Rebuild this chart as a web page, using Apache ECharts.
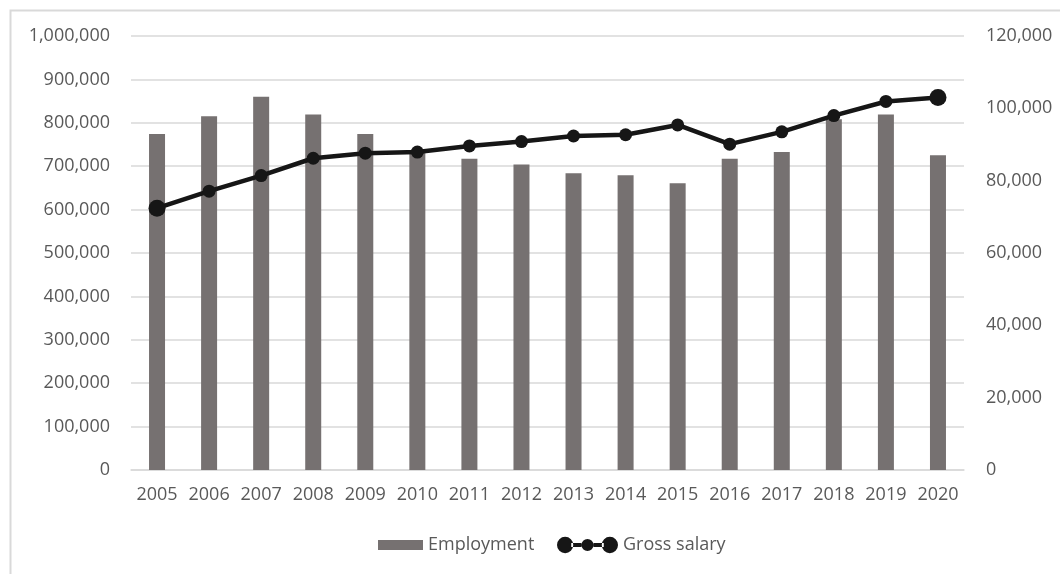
<!DOCTYPE html>
<html>
<head>
<meta charset="utf-8">
<script src="https://cdn.jsdelivr.net/npm/echarts@6/dist/echarts.min.js"></script>
<style>
html,body{margin:0;padding:0;background:#fff;}
#c{width:1060px;height:574px;}
</style>
</head>
<body>
<div id="c"></div>
<script>
const years = ['2005','2006','2007','2008','2009','2010','2011','2012','2013','2014','2015','2016','2017','2018','2019','2020'];
const employment = [774000, 815000, 860000, 819000, 774000, 733000, 717000, 704000, 684000, 679000, 661000, 717000, 733000, 808000, 819000, 725000];
const grossSalary = [72400, 77100, 81400, 86200, 87600, 87900, 89600, 90800, 92350, 92700, 95400, 90100, 93500, 98000, 101900, 103000];
const leftTicks = {min: 0, max: 1000000, interval: 100000};
const rightTicks = {min: 0, max: 120000, interval: 20000};

function fmt(v){ return String(v).replace(/\B(?=(\d{3})+(?!\d))/g, ','); }

const chart = echarts.init(document.getElementById('c'), null, {renderer:'canvas'});
const font = "'Open Sans', 'DejaVu Sans', sans-serif";
const labelColor = '#595959';
const gridColor = '#d9d9d9';

const salaryData = grossSalary.map((v,i)=>({
  value: v,
  symbolSize: (i===0 || i===grossSalary.length-1) ? 17 : 13
}));

const legendIcon = 'path://M0,8 A8,8 0 1,0 16,8 A8,8 0 1,0 0,8 Z M14,6 L24,6 L24,10 L14,10 Z M24,8 A6,6 0 1,0 36,8 A6,6 0 1,0 24,8 Z M36,6 L46,6 L46,10 L36,10 Z M44,8 A8,8 0 1,0 60,8 A8,8 0 1,0 44,8 Z';

chart.setOption({
  animation: false,
  textStyle: {fontFamily: font},
  graphic: [{
    type: 'polyline',
    shape: {points: [[10.5, 580], [10.5, 10.5], [1070, 10.5]]},
    style: {stroke: gridColor, lineWidth: 2, fill: null},
    silent: true
  }],
  grid: {left: 131, right: 96, top: 36, bottom: 104, containLabel: false},
  legend: [{
    left: 373,
    top: 531,
    textStyle: {color: labelColor, fontSize: 18, fontFamily: font},
    data: [{name: 'Employment', icon: 'rect', itemStyle: {color: '#767171'}}],
    itemWidth: 45,
    itemHeight: 10
  },{
    left: 552,
    top: 531,
    textStyle: {color: labelColor, fontSize: 18, fontFamily: font},
    data: [{name: 'Gross salary', icon: legendIcon}],
    itemWidth: 61,
    itemHeight: 17
  }],
  xAxis: {
    type: 'category',
    data: years,
    axisLine: {lineStyle: {color: gridColor, width: 1.5}},
    axisTick: {show: false},
    axisLabel: {color: labelColor, fontSize: 18, margin: 16, interval: 0}
  },
  yAxis: [{
    type: 'value',
    min: leftTicks.min, max: leftTicks.max, interval: leftTicks.interval,
    axisLine: {show: false}, axisTick: {show: false},
    splitLine: {lineStyle: {color: gridColor, width: 1.5}},
    axisLabel: {color: labelColor, fontSize: 18, margin: 21, formatter: fmt}
  },{
    type: 'value',
    min: rightTicks.min, max: rightTicks.max, interval: rightTicks.interval,
    axisLine: {show: false}, axisTick: {show: false},
    splitLine: {show: false},
    axisLabel: {color: labelColor, fontSize: 18, margin: 22, formatter: fmt}
  }],
  series: [{
    name: 'Employment',
    type: 'bar',
    data: employment,
    barWidth: 16,
    itemStyle: {color: '#767171'},
    yAxisIndex: 0
  },{
    name: 'Gross salary',
    type: 'line',
    yAxisIndex: 1,
    data: salaryData,
    symbol: 'circle',
    lineStyle: {color: '#161616', width: 4.5},
    itemStyle: {color: '#161616'}
  }]
});
</script>
</body>
</html>
